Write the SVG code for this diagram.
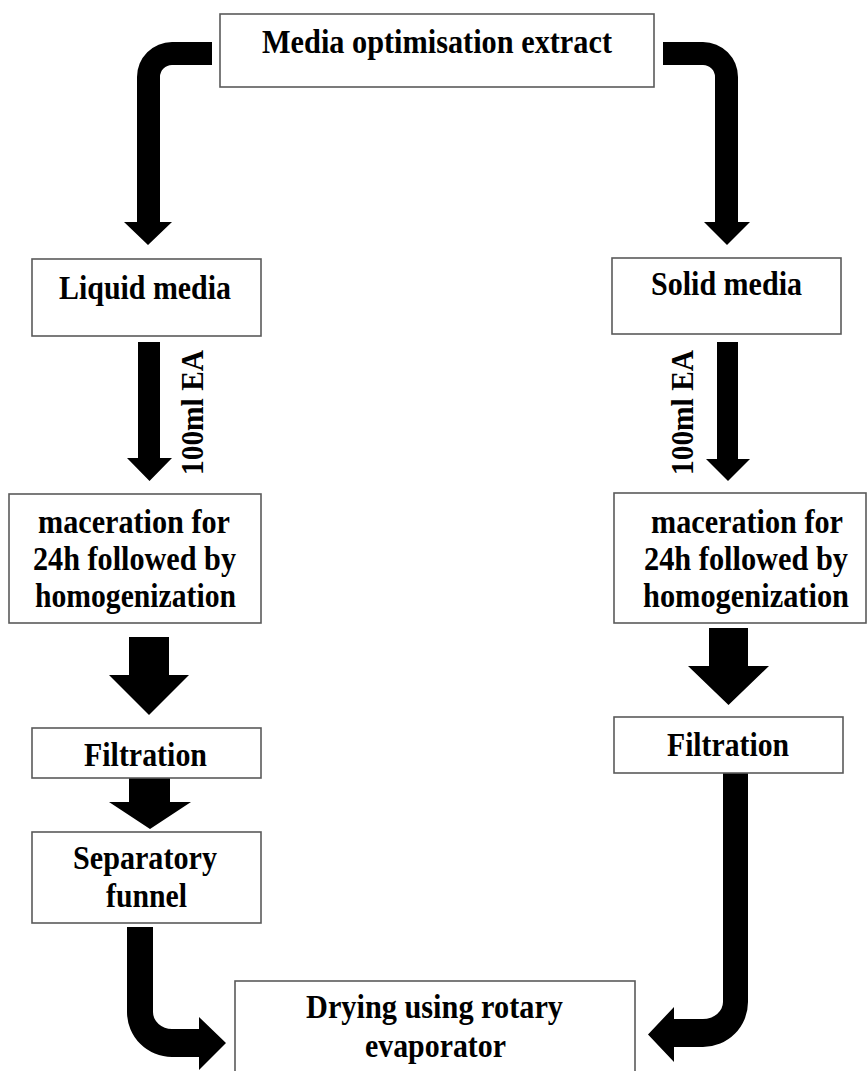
<svg xmlns="http://www.w3.org/2000/svg" width="868" height="1071" viewBox="0 0 868 1071">
  <style>
    .box { fill: #ffffff; stroke: #5a5a5a; stroke-width: 1.6; }
    .lbl { font-family: "Liberation Serif", "Times New Roman", serif; font-weight: bold; font-size: 33px; fill: #000000; text-anchor: middle; }
    .side { font-family: "Liberation Serif", "Times New Roman", serif; font-weight: bold; font-size: 31px; fill: #000000; text-anchor: middle; }
    .arrow { fill: #000000; stroke: none; }
  </style>
  <rect width="868" height="1071" fill="#ffffff"/>

  <!-- connectors: block arrows -->
  <g id="connectors">
    <!-- top box to liquid media -->
    <path class="arrow" d="M212,42 L172,42 A35,35 0 0 0 137,77 L137,222 L124,222 L148,245 L172,222 L160,222 L160,77 A12,12 0 0 1 172,65 L212,65 Z"/>
    <!-- top box to solid media -->
    <path class="arrow" d="M663,42 L703,42 A35,35 0 0 1 738,77 L738,222 L750,222 L727,245 L704,222 L715,222 L715,77 A12,12 0 0 0 703,65 L663,65 Z"/>
    <!-- liquid media to maceration -->
    <path class="arrow" d="M138,342 L160,342 L160,458 L172,458 L149.5,481 L127,458 L138,458 Z"/>
    <!-- solid media to maceration -->
    <path class="arrow" d="M717,342 L738,342 L738,459 L750,459 L728,481 L706,459 L717,459 Z"/>
    <!-- left maceration to filtration -->
    <path class="arrow" d="M129,637 L169,637 L169,675 L189,675 L149,715 L109,675 L129,675 Z"/>
    <!-- left filtration to separatory funnel -->
    <path class="arrow" d="M129,778 L170,778 L170,802 L191,802 L150,829 L109,802 L129,802 Z"/>
    <!-- right maceration to filtration -->
    <path class="arrow" d="M709,628 L748,628 L748,666 L769,666 L728.5,705 L688,666 L709,666 Z"/>
    <!-- separatory funnel to drying -->
    <path class="arrow" d="M127,927 L153,927 L153,1012 A19,17 0 0 0 172,1029 L199,1029 L199,1017 L226,1043 L199,1070 L199,1057 L172,1057 A45,45 0 0 1 127,1012 Z"/>
    <!-- right filtration to drying -->
    <path class="arrow" d="M723,773 L748,773 L748,1002 A45,45 0 0 1 703,1047 L674,1047 L674,1062 L648,1034.5 L674,1007 L674,1019 L703,1019 A20,17 0 0 0 723,1002 Z"/>
    <!-- arrow labels -->
    <text class="side" transform="translate(203,412.5) rotate(-90)" textLength="125" lengthAdjust="spacingAndGlyphs">100ml EA</text>
    <text class="side" transform="translate(693,412.5) rotate(-90)" textLength="125" lengthAdjust="spacingAndGlyphs">100ml EA</text>
  </g>

  <g id="node-media-extract">
    <rect class="box" x="220" y="14" width="434" height="73"/>
    <text class="lbl" x="437" y="53" textLength="350" lengthAdjust="spacingAndGlyphs">Media optimisation extract</text>
  </g>

  <g id="node-liquid-media">
    <rect class="box" x="32" y="259" width="229" height="77"/>
    <text class="lbl" x="145" y="299" textLength="172" lengthAdjust="spacingAndGlyphs">Liquid media</text>
  </g>

  <g id="node-solid-media">
    <rect class="box" x="612" y="258" width="229" height="76"/>
    <text class="lbl" x="726.5" y="295" textLength="151" lengthAdjust="spacingAndGlyphs">Solid media</text>
  </g>

  <g id="node-maceration-liquid">
    <rect class="box" x="9" y="494" width="252" height="129"/>
    <text class="lbl" x="134" y="533" textLength="192" lengthAdjust="spacingAndGlyphs">maceration for</text>
    <text class="lbl" x="134.5" y="570" textLength="203" lengthAdjust="spacingAndGlyphs">24h followed by</text>
    <text class="lbl" x="135.5" y="607" textLength="201" lengthAdjust="spacingAndGlyphs">homogenization</text>
  </g>

  <g id="node-maceration-solid">
    <rect class="box" x="614" y="493" width="252" height="130"/>
    <text class="lbl" x="747" y="533" textLength="192" lengthAdjust="spacingAndGlyphs">maceration for</text>
    <text class="lbl" x="746" y="570" textLength="204" lengthAdjust="spacingAndGlyphs">24h followed by</text>
    <text class="lbl" x="746" y="607" textLength="206" lengthAdjust="spacingAndGlyphs">homogenization</text>
  </g>

  <g id="node-filtration-liquid">
    <rect class="box" x="32" y="728" width="229" height="50"/>
    <text class="lbl" x="145.5" y="766" textLength="123" lengthAdjust="spacingAndGlyphs">Filtration</text>
  </g>

  <g id="node-filtration-solid">
    <rect class="box" x="614" y="717" width="229" height="56"/>
    <text class="lbl" x="728" y="756" textLength="122" lengthAdjust="spacingAndGlyphs">Filtration</text>
  </g>

  <g id="node-separatory-funnel">
    <rect class="box" x="32" y="832" width="229" height="91"/>
    <text class="lbl" x="145" y="869" textLength="144" lengthAdjust="spacingAndGlyphs">Separatory</text>
    <text class="lbl" x="146.5" y="907" textLength="81" lengthAdjust="spacingAndGlyphs">funnel</text>
  </g>

  <g id="node-drying">
    <rect class="box" x="235" y="981" width="400" height="100"/>
    <text class="lbl" x="434.5" y="1018" textLength="257" lengthAdjust="spacingAndGlyphs">Drying using rotary</text>
    <text class="lbl" x="435.5" y="1057" textLength="141" lengthAdjust="spacingAndGlyphs">evaporator</text>
  </g>
</svg>
